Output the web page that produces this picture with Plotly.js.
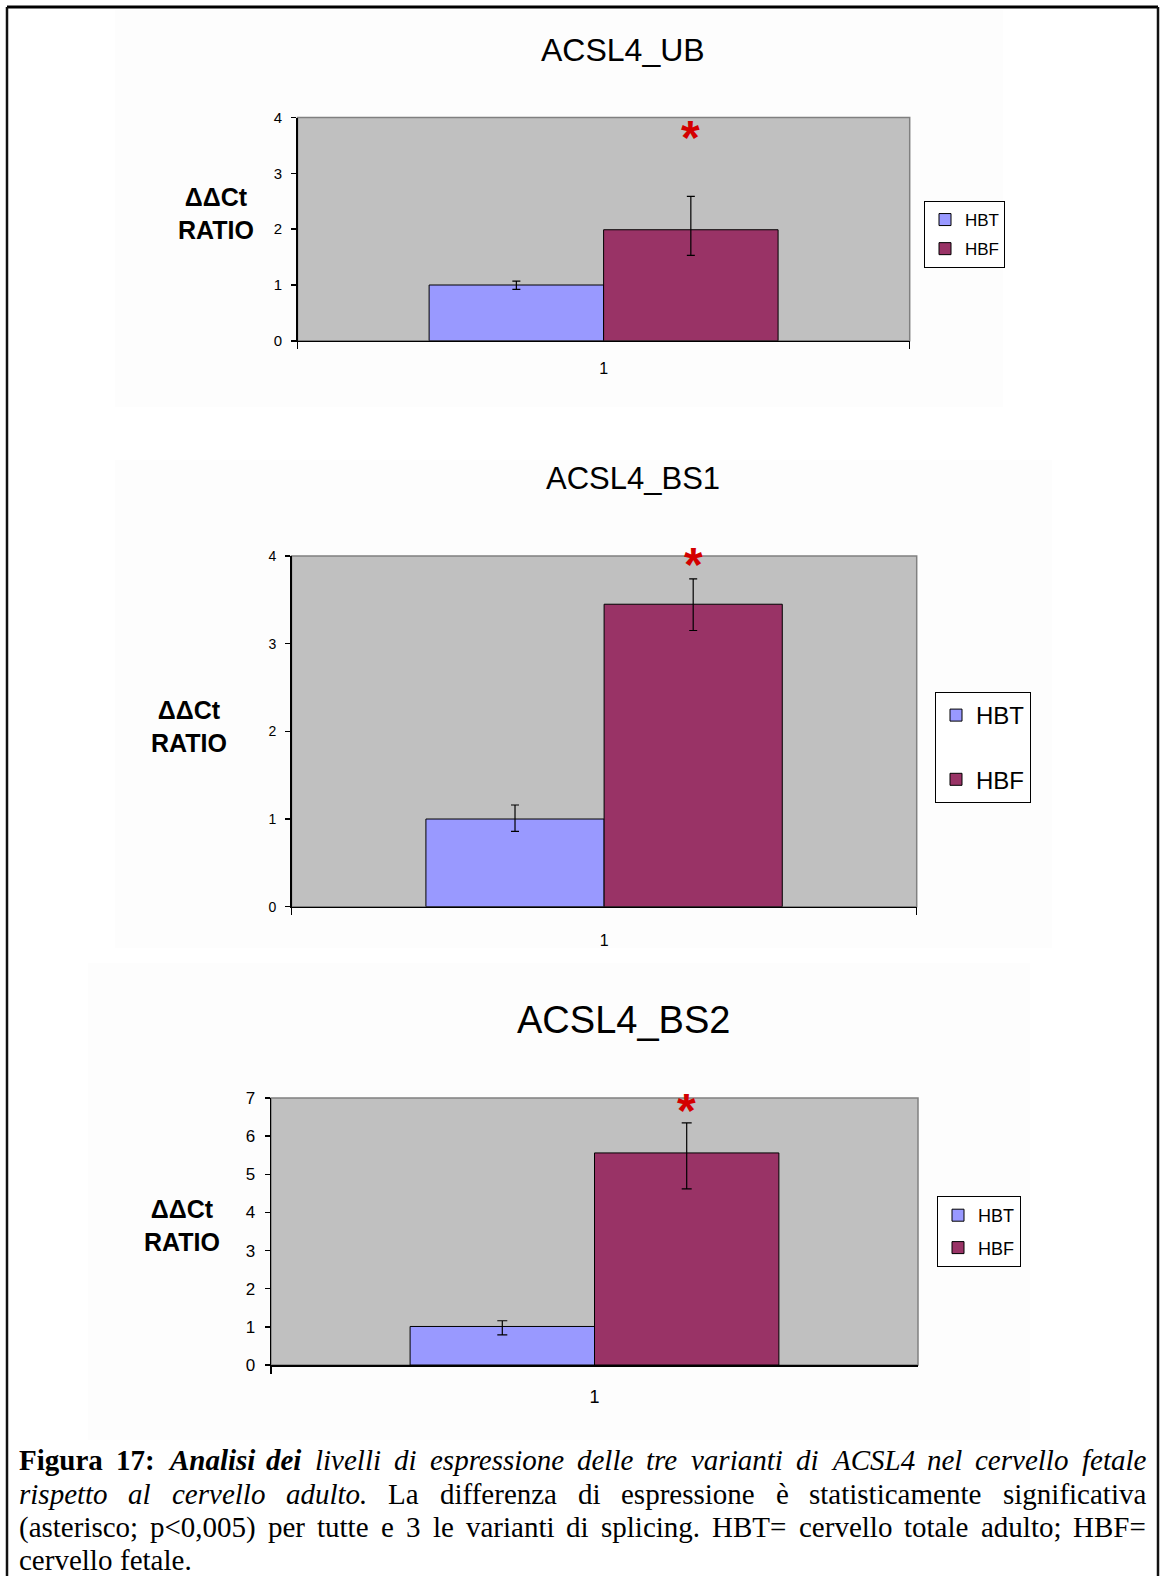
<!DOCTYPE html>
<html><head><meta charset="utf-8">
<script src="https://cdn.plot.ly/plotly-3.0.1.min.js"></script>
<style>html,body{margin:0;padding:0;background:#fff;} #chart{width:1161px;height:1576px;}</style>
</head><body><div id="chart"></div>
<script>
// ---------------- DATA ----------------
const categories = ['1'];
const seriesNames = ['HBT', 'HBF'];
const chartTitles = ['ACSL4_UB', 'ACSL4_BS1', 'ACSL4_BS2'];
const hbtValues   = [1.00, 1.00, 1.01];
const hbfValues   = [1.99, 3.45, 5.56];
const hbtErrPlus  = [0.07, 0.16, 0.15];
const hbtErrMinus = [0.08, 0.14, 0.22];
const hbfErrPlus  = [0.60, 0.29, 0.79];
const hbfErrMinus = [0.46, 0.30, 0.94];
const starY       = [3.84, 3.99, 6.97];
const yMax        = [4, 4, 7];
const yTickStep   = [1, 1, 1];
const yLabelText  = 'ΔΔCt<br>RATIO';
const captionLines = [
  [['Figura','b'],['17:','b'],['Analisi','bi'],['dei','bi'],['livelli','i'],['di','i'],['espressione','i'],['delle','i'],['tre','i'],['varianti','i'],['di','i'],['ACSL4','i'],['nel','i'],['cervello','i'],['fetale','i']],
  [['rispetto','i'],['al','i'],['cervello','i'],['adulto.','i'],['La','r'],['differenza','r'],['di','r'],['espressione','r'],['è','r'],['statisticamente','r'],['significativa','r']],
  [['(asterisco;','r'],['p<0,005)','r'],['per','r'],['tutte','r'],['e','r'],['3','r'],['le','r'],['varianti','r'],['di','r'],['splicing.','r'],['HBT=','r'],['cervello','r'],['totale','r'],['adulto;','r'],['HBF=','r']],
  [['cervello','r'],['fetale.','r']]
];
const captionJustify = [true, true, true, false];

// ---------------- LAYOUT HELPERS ----------------
const W = 1161, H = 1576;
const px = v => v / W;
const py = v => 1 - v / H;
const SANS = '"Liberation Sans", Arial, sans-serif';
const SERIF = '"Liberation Serif", "Times New Roman", serif';
const BARGAP = 0.43;
const COLORS = ['#9999FF', '#993366'];

const panels = [
  {x0:297.5, x1:909.7, y0:117.6, y1:340.8, title:[623,50,32], ylab:[216,213], leg:[924,201,17,4], tick:15, xtick:16, xstand:12, cap:4, starShift:0, bg:[115,10,1003,407]},
  {x0:291.5, x1:916.7, y0:556,   y1:906.7, title:[633,478,31], ylab:[189,727], leg:[935,692,24,30], tick:14, xtick:16, xstand:19, cap:4, starShift:3, bg:[115,460,1052,948]},
  {x0:271,   x1:918,   y0:1098,  y1:1365,  title:[623,1020,38], ylab:[182,1225], leg:[937,1196,18,6], tick:17, xtick:18, xstand:15, cap:5, starShift:0, bg:[88,963,1030,1440]}
];

const traces = [];
const annotations = [];
const shapes = [];
const layout = {
  width: W, height: H, autosize: false,
  margin: {l:0, r:0, t:0, b:0, pad:0},
  paper_bgcolor: '#FFFFFF', plot_bgcolor: '#C0C0C0',
  barmode: 'group', bargap: BARGAP, bargroupgap: 0,
  font: {family: SANS, color: '#000'},
  showlegend: true
};

// faint chart panels
panels.forEach(p => {
  shapes.push({type:'rect', xref:'paper', yref:'paper', layer:'below',
    x0:px(p.bg[0]), x1:px(p.bg[2]), y0:py(p.bg[3]), y1:py(p.bg[1]),
    fillcolor:'#FDFDFD', line:{width:0}});
});

const hbfCenter = (1 - BARGAP) / 4;

panels.forEach((p, i) => {
  const s = i === 0 ? '' : String(i + 1);
  const xa = 'x' + s, ya = 'y' + s, lg = 'legend' + s;
  const vals = [hbtValues[i], hbfValues[i]];
  const ep = [hbtErrPlus[i], hbfErrPlus[i]];
  const em = [hbtErrMinus[i], hbfErrMinus[i]];
  seriesNames.forEach((nm, k) => {
    traces.push({
      type:'bar', name:nm, x:categories, y:[vals[k]], xaxis:xa, yaxis:ya,
      legend:lg, legendgroup:nm + i,
      marker:{color:COLORS[k], line:{color:'#000', width:1}},
      error_y:{type:'data', symmetric:false, array:[ep[k]], arrayminus:[em[k]],
        color:'#000', thickness:1.2, width:p.cap},
      hoverinfo:'skip'
    });
  });
  layout['xaxis' + s] = {
    domain:[px(p.x0), px(p.x1)], anchor:ya, type:'category',
    showline:true, linecolor:'#000', linewidth:1.5,
    ticks:'outside', tickson:'boundaries', ticklen:7, tickwidth:1.5, tickcolor:'#000',
    showgrid:false, zeroline:false, ticklabelstandoff:p.xstand,
    tickfont:{family:SANS, size:p.xtick, color:'#000'}, fixedrange:true
  };
  layout['yaxis' + s] = {
    domain:[py(p.y1), py(p.y0)], anchor:xa, range:[0, yMax[i]], dtick:yTickStep[i],
    showline:true, linecolor:'#000', linewidth:1.5,
    ticks:'outside', ticklen:5, tickwidth:1.5, tickcolor:'#000',
    showgrid:false, zeroline:false, ticklabelstandoff:6,
    tickfont:{family:SANS, size:p.tick, color:'#000'}, fixedrange:true
  };
  layout[lg] = {
    x:px(p.leg[0]), y:py(p.leg[1]), xanchor:'left', yanchor:'top',
    bgcolor:'#FFFFFF', bordercolor:'#000', borderwidth:1,
    font:{family:SANS, size:p.leg[2], color:'#000'},
    traceorder:'grouped', tracegroupgap:p.leg[3], itemclick:false, itemdoubleclick:false
  };
  // plot area with grey border
  shapes.push({type:'rect', xref:xa + ' domain', yref:ya + ' domain', layer:'below',
    x0:0, x1:1, y0:0, y1:1, fillcolor:'#C0C0C0', line:{color:'#808080', width:1.5}});
  // title
  annotations.push({xref:'paper', yref:'paper', x:px(p.title[0]), y:py(p.title[1]),
    xanchor:'center', yanchor:'middle', showarrow:false, text:chartTitles[i],
    font:{family:SANS, size:p.title[2], color:'#000'}});
  // y label
  annotations.push({xref:'paper', yref:'paper', x:px(p.ylab[0]), y:py(p.ylab[1]),
    xanchor:'center', yanchor:'middle', showarrow:false, text:'<b>' + yLabelText + '</b>',
    font:{family:SANS, size:25, color:'#000'}});
  // significance asterisk
  const starSize = 48;
  annotations.push({xref:xa, yref:ya, x:hbfCenter, y:starY[i], xanchor:'center', yanchor:'middle',
    yshift:-0.23 * starSize + p.starShift, showarrow:false, text:'<b>*</b>',
    font:{family:SANS, size:starSize, color:'#D40000'}});
});

// page frame
shapes.push({type:'line', xref:'paper', yref:'paper', x0:px(7), x1:px(1158), y0:py(7), y1:py(7), line:{color:'#000', width:3}});
shapes.push({type:'line', xref:'paper', yref:'paper', x0:px(7), x1:px(7), y0:py(7), y1:py(1590), line:{color:'#111', width:2.5}});
shapes.push({type:'line', xref:'paper', yref:'paper', x0:px(1158), x1:px(1158), y0:py(7), y1:py(1590), line:{color:'#111', width:2.5}});

// caption (justified)
const CAP_SIZE = 29;
const capLeft = 19, capRight = 1146;
const capY = [1460, 1494, 1527, 1560];
const ctx = document.createElement('canvas').getContext('2d');
function fontFor(st, size) {
  const it = st.includes('i') ? 'italic ' : '';
  const bd = st.includes('b') ? 'bold ' : '';
  return it + bd + size + 'px "Liberation Serif"';
}
function markup(w, st) {
  let t = w.replace(/&/g, '&amp;').replace(/</g, '&lt;').replace(/>/g, '&gt;');
  if (st.includes('i')) t = '<i>' + t + '</i>';
  if (st.includes('b')) t = '<b>' + t + '</b>';
  return t;
}
captionLines.forEach((line, li) => {
  let size = CAP_SIZE, widths, total, gap, normalSpace;
  for (let iter = 0; iter < 10; iter++) {
    widths = line.map(([w, st]) => { ctx.font = fontFor(st, size); return ctx.measureText(w).width; });
    total = widths.reduce((a, b) => a + b, 0);
    ctx.font = size + 'px "Liberation Serif"';
    normalSpace = ctx.measureText(' ').width;
    gap = captionJustify[li] && line.length > 1 ? (capRight - capLeft - total) / (line.length - 1) : normalSpace;
    if (gap >= normalSpace * 0.8) break;
    size -= 0.5;
  }
  let xpos = capLeft;
  line.forEach(([w, st], k) => {
    annotations.push({xref:'paper', yref:'paper', x:px(xpos - 1), y:py(capY[li]),
      xanchor:'left', yanchor:'middle', showarrow:false, text:markup(w, st),
      borderpad:0, font:{family:SERIF, size:size, color:'#000'}});
    xpos += widths[k] + gap;
  });
});

layout.annotations = annotations;
layout.shapes = shapes;

Plotly.newPlot('chart', traces, layout, {staticPlot:true, displayModeBar:false});
</script>
</body></html>
